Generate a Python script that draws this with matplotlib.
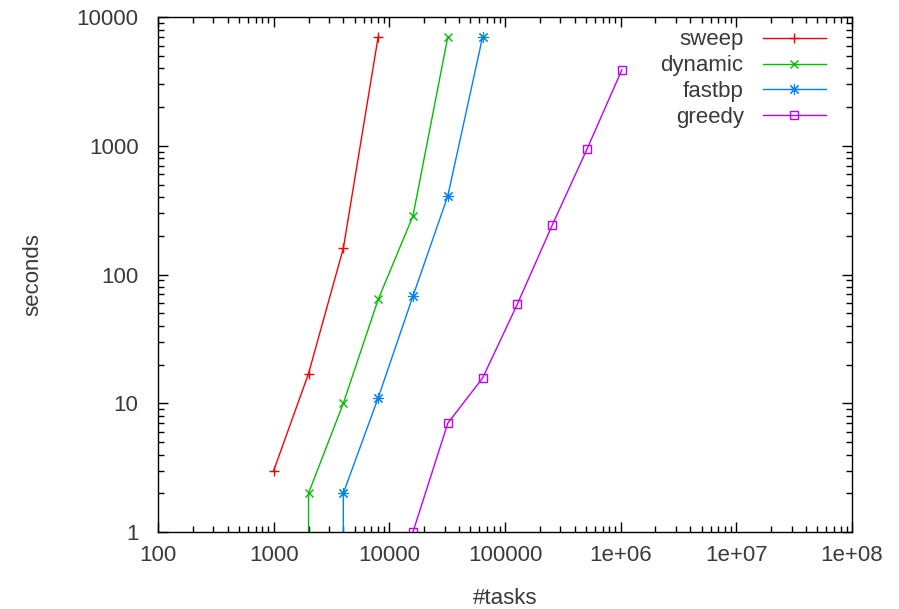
import matplotlib
matplotlib.use("Agg")
import matplotlib.pyplot as plt
from matplotlib.ticker import LogLocator, FixedLocator, FixedFormatter

plt.rcParams['font.family'] = ['Liberation Sans', 'DejaVu Sans']

# data (0.5 = below the axis, drawn as drop to the bottom)
sweep_x = [1000, 2000, 4000, 8000]
sweep_y = [3, 17, 160, 7000]
dynamic_x = [2000, 2000, 4000, 8000, 16000, 32000]
dynamic_y = [0.5, 2, 10, 64, 285, 7000]
fastbp_x = [4000, 4000, 8000, 16000, 32000, 64000]
fastbp_y = [0.5, 2, 11, 68, 407, 7000]
greedy_x = [16000, 32000, 64000, 128000, 256000, 512000, 1024000]
greedy_y = [1, 7, 15.7, 59, 242, 944, 3890]

xticks = [100, 1000, 10000, 100000, 1e6, 1e7, 1e8]
xlabels = ['100', '1000', '10000', '100000', '1e+06', '1e+07', '1e+08']
yticks = [1, 10, 100, 1000, 10000]
ylabels = ['1', '10', '100', '1000', '10000']

txt = '#3a3a3a'
fs = 16

fig = plt.figure(figsize=(8.99, 6.09), dpi=100)
ax = fig.add_axes([0.1758, 0.1264, 0.7719, 0.8456])

ax.plot(sweep_x, sweep_y, color='#ff0000', marker='+', ms=7, mew=1.0, lw=1.0, label='sweep')
ax.plot(dynamic_x, dynamic_y, color='#00c000', marker='x', ms=6, mew=1.0, lw=1.0, label='dynamic')
ax.plot(fastbp_x, fastbp_y, color='#0080ff', marker=(8, 2, 0), ms=8, mew=0.8, lw=1.0, label='fastbp')
ax.plot(greedy_x, greedy_y, color='#c000ff', marker='s', ms=6, mew=1.0, mfc='none', lw=1.0, label='greedy')

ax.set_xscale('log')
ax.set_yscale('log')
ax.set_xlim(100, 1e8)
ax.set_ylim(1, 10000)

ax.xaxis.set_major_locator(FixedLocator(xticks))
ax.xaxis.set_major_formatter(FixedFormatter(xlabels))
ax.yaxis.set_major_locator(FixedLocator(yticks))
ax.yaxis.set_major_formatter(FixedFormatter(ylabels))
ax.xaxis.set_minor_locator(LogLocator(base=10, subs=range(2, 10)))
ax.yaxis.set_minor_locator(LogLocator(base=10, subs=range(2, 10)))
ax.xaxis.set_minor_formatter(FixedFormatter([]))
ax.yaxis.set_minor_formatter(FixedFormatter([]))

ax.tick_params(which='both', direction='in', top=True, right=True, colors='black',
               labelcolor=txt, labelsize=fs, width=1)
ax.tick_params(which='major', length=7)
ax.tick_params(which='minor', length=4)
ax.tick_params(axis='x', which='major', pad=9)
ax.tick_params(axis='y', which='major', pad=14)
for s in ax.spines.values():
    s.set_color('black')
    s.set_linewidth(1)

ax.set_xlabel('#tasks', fontsize=fs, color=txt, labelpad=16)
ax.set_ylabel('seconds', fontsize=fs, color=txt, labelpad=24)

leg = ax.legend(loc='upper right', frameon=False, markerfirst=False, fontsize=fs,
                handlelength=2.85, handletextpad=0.85, labelspacing=0.22,
                borderaxespad=0.0, borderpad=0.0, bbox_to_anchor=(0.9625, 0.976))
for t in leg.get_texts():
    t.set_color(txt)

fig.savefig('out.png', dpi=100)
